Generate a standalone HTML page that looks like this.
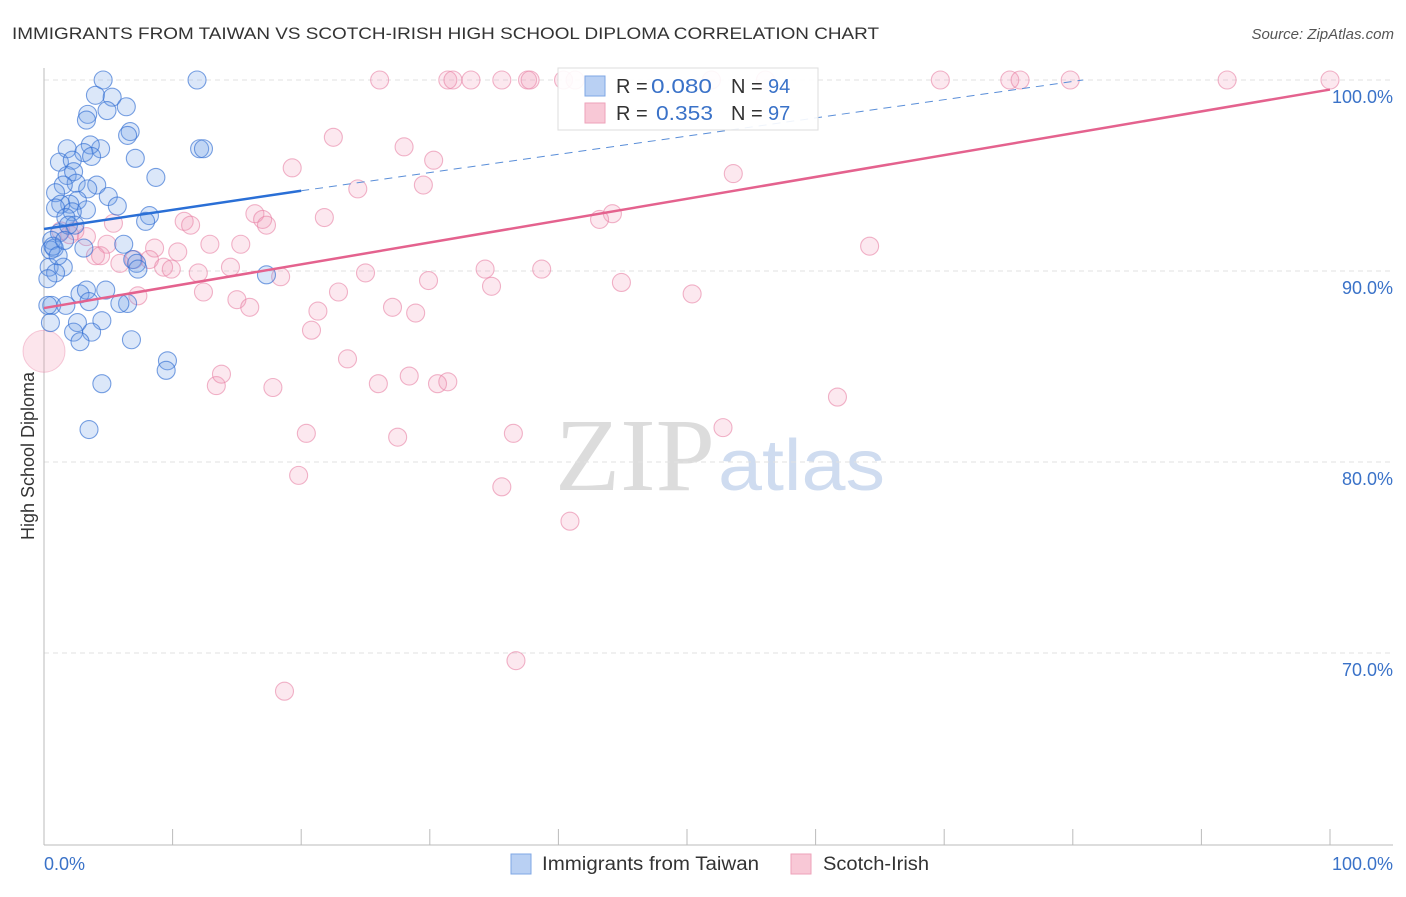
<!DOCTYPE html>
<html><head><meta charset="utf-8"><style>
body{margin:0;background:#fff;font-family:"Liberation Sans",sans-serif;}
</style></head><body>
<svg id="chart" width="1406" height="892" xmlns="http://www.w3.org/2000/svg" font-family="Liberation Sans, sans-serif">
<text x="12" y="39" font-size="17" fill="#333" textLength="867" lengthAdjust="spacingAndGlyphs">IMMIGRANTS FROM TAIWAN VS SCOTCH-IRISH HIGH SCHOOL DIPLOMA CORRELATION CHART</text>
<text x="1394" y="39" font-size="15" fill="#555" text-anchor="end" font-style="italic">Source: ZipAtlas.com</text>
<text x="555" y="490" font-size="104" fill="#dcdcdc" textLength="160" lengthAdjust="spacingAndGlyphs" style="font-family:'Liberation Serif',serif">ZIP</text>
<text x="718" y="490" font-size="72" fill="#cfdcf0" textLength="167" lengthAdjust="spacingAndGlyphs">atlas</text>
<g id="grid"></g>
<g id="marks"></g>
<text transform="translate(34,456) rotate(-90)" font-size="18" fill="#333" text-anchor="middle">High School Diploma</text>
<text x="44" y="870" font-size="18" fill="#3a72c8">0.0%</text>
<text x="1393" y="870" font-size="18" fill="#3a72c8" text-anchor="end">100.0%</text>
<g>
<rect x="511" y="854" width="20" height="20" fill="#b9d0f3" stroke="#7fa7e4"/>
<text x="542" y="870" font-size="19" fill="#333" textLength="217" lengthAdjust="spacingAndGlyphs">Immigrants from Taiwan</text>
<rect x="791" y="854" width="20" height="20" fill="#f8c8d6" stroke="#eea2ba"/>
<text x="823" y="870" font-size="19" fill="#333" textLength="106" lengthAdjust="spacingAndGlyphs">Scotch-Irish</text>
</g>
<g>
<rect x="558" y="68" width="260" height="62" fill="#fff" fill-opacity="0.9" stroke="#ddd"/>
<rect x="585" y="76" width="20" height="20" fill="#b9d0f3" stroke="#7fa7e4"/>
<text x="616" y="93" font-size="20" fill="#333">R = </text><text x="651" y="93" font-size="20" fill="#3a72c8" textLength="61" lengthAdjust="spacingAndGlyphs">0.080</text>
<text x="731" y="93" font-size="20" fill="#333">N = </text><text x="768" y="93" font-size="20" fill="#3a72c8">94</text>
<rect x="585" y="103" width="20" height="20" fill="#f8c8d6" stroke="#eea2ba"/>
<text x="616" y="120" font-size="20" fill="#333">R = </text><text x="656" y="120" font-size="20" fill="#3a72c8" textLength="57" lengthAdjust="spacingAndGlyphs">0.353</text>
<text x="731" y="120" font-size="20" fill="#333">N = </text><text x="768" y="120" font-size="20" fill="#3a72c8">97</text>
</g>
</svg>
<script>
const yTicks=[100,90,80,70];
const yTickLabels=["100.0%","90.0%","80.0%","70.0%"];
const blueX=[4.6,11.9,4.0,5.3,6.4,4.9,3.4,3.3,6.7,6.5,1.8,4.4,3.6,3.1,7.1,12.1,12.4,1.2,2.2,3.7,8.7,1.8,2.3,2.5,1.5,4.1,3.4,0.9,5.0,5.7,2.6,2.0,1.3,0.9,3.3,2.2,1.7,8.2,7.9,2.4,1.2,0.6,0.8,3.1,6.2,0.5,6.9,7.2,0.4,1.5,0.9,7.3,17.3,0.3,0.6,0.3,2.8,3.3,4.8,1.7,3.5,6.5,5.9,0.5,2.6,2.3,4.5,3.7,2.8,6.8,9.6,9.5,4.5,3.5,0.7,1.1,1.9,1.6];
const blueY=[100,100,99.2,99.1,98.6,98.4,98.2,97.9,97.3,97.1,96.4,96.4,96.6,96.2,95.9,96.4,96.4,95.7,95.8,96.0,94.9,95.0,95.2,94.6,94.5,94.5,94.3,94.1,93.9,93.4,93.7,93.5,93.5,93.3,93.2,93.1,92.8,92.9,92.6,92.4,92.0,91.6,91.2,91.2,91.4,91.1,90.6,90.4,90.2,90.2,89.9,90.1,89.8,89.6,88.2,88.2,88.8,89.0,89.0,88.2,88.4,88.3,88.3,87.3,87.3,86.8,87.4,86.8,86.3,86.4,85.3,84.8,84.1,81.7,91.3,90.8,92.4,91.6];
const pinkX=[26.1,31.4,31.8,33.2,35.6,37.6,37.8,40.4,41.3,56.1,69.7,75.1,75.9,79.8,92.0,100,51.9,22.5,19.3,28.0,30.3,24.4,29.5,53.6,44.2,43.2,16.4,17.0,17.3,10.9,11.4,21.8,5.4,1.3,2.0,3.3,2.4,64.2,4.9,8.6,12.9,15.3,10.4,4.0,4.4,7.0,8.2,9.3,9.9,12.0,14.5,5.9,25.0,34.3,38.7,18.4,29.9,44.9,34.8,22.9,12.4,15.0,16.0,21.3,27.1,28.9,50.4,7.3,20.8,23.6,28.4,30.6,31.4,26.0,17.8,13.4,13.8,61.7,52.8,20.4,27.5,36.5,19.8,35.6,40.9,36.7,18.7];
const pinkY=[100,100,100,100,100,100,100,100,100,100,100,100,100,100,100,100,100,97.0,95.4,96.5,95.8,94.3,94.5,95.1,93.0,92.7,93.0,92.7,92.4,92.6,92.4,92.8,92.5,92.1,91.9,91.8,92.1,91.3,91.4,91.2,91.4,91.4,91.0,90.8,90.8,90.6,90.6,90.2,90.1,89.9,90.2,90.4,89.9,90.1,90.1,89.7,89.5,89.4,89.2,88.9,88.9,88.5,88.1,87.9,88.1,87.8,88.8,88.7,86.9,85.4,84.5,84.1,84.2,84.1,83.9,84.0,84.6,83.4,81.8,81.5,81.3,81.5,79.3,78.7,76.9,69.6,68.0];
const bigPink=[0,85.8];
const blueTrend=[[0,92.2],[20,94.2],[80.8,100]];
const pinkTrend=[[0,88.06],[100,99.5]];
const X=v=>44+v*12.86;
const Y=v=>80+(100-v)*19.1;
const NS="http://www.w3.org/2000/svg";
const grid=document.getElementById('grid'),marks=document.getElementById('marks');
function mk(tag,attrs,parent){const e=document.createElementNS(NS,tag);for(const k in attrs)e.setAttribute(k,attrs[k]);parent.appendChild(e);return e;}
yTicks.forEach((t,i)=>{
 const l=mk('line',{x1:44,x2:1393,y1:Y(t),y2:Y(t),stroke:'#e2e2e2','stroke-dasharray':'5,4'},grid);
 
 
 const tx=mk('text',{x:1393,y:Y(t)+23,'font-size':18,fill:'#3a72c8','text-anchor':'end'},grid);
 tx.textContent=yTickLabels[i];
 
 
});
const ax=mk('line',{x1:44,x2:44,y1:68,y2:845,stroke:'#bbb'},grid);


const bx=mk('line',{x1:44,x2:1393,y1:845,y2:845,stroke:'#bbb'},grid);


for(let i=0;i<=10;i++){const t=mk('line',{x1:X(i*10),x2:X(i*10),y1:829,y2:845,stroke:'#bbb'},grid);
 
 }
const bp=mk('circle',{cx:X(bigPink[0]),cy:Y(bigPink[1]),r:21,fill:'rgba(242,150,180,0.25)',stroke:'rgba(232,130,165,0.4)'},marks);


pinkX.forEach((v,i)=>{const c=mk('circle',{cx:X(v),cy:Y(pinkY[i]),r:9,fill:'rgba(242,150,180,0.22)',stroke:'rgba(232,130,165,0.6)','stroke-width':1.1},marks);
 
 });
blueX.forEach((v,i)=>{const c=mk('circle',{cx:X(v),cy:Y(blueY[i]),r:9,fill:'rgba(110,160,230,0.25)',stroke:'rgba(50,110,210,0.65)','stroke-width':1.1},marks);
 
 });
const bt1=mk('line',{x1:X(blueTrend[0][0]),y1:Y(blueTrend[0][1]),x2:X(blueTrend[1][0]),y2:Y(blueTrend[1][1]),stroke:'#2a6fd6','stroke-width':2.5},marks);


const bt2=mk('line',{x1:X(blueTrend[1][0]),y1:Y(blueTrend[1][1]),x2:X(blueTrend[2][0]),y2:Y(blueTrend[2][1]),stroke:'#5a8ed8','stroke-width':1,'stroke-dasharray':'8,6'},marks);


const pt=mk('line',{x1:X(pinkTrend[0][0]),y1:Y(pinkTrend[0][1]),x2:X(pinkTrend[1][0]),y2:Y(pinkTrend[1][1]),stroke:'#e4628e','stroke-width':2.5},marks);


</script>
</body></html>
